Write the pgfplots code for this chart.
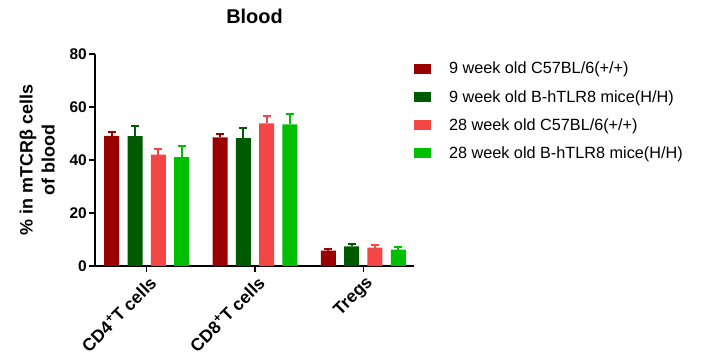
\documentclass[border=0pt]{standalone}
\usepackage{pgfplots}
\pgfplotsset{compat=1.18}
\usepackage{fontspec}
\setmainfont{Liberation Sans}
\definecolor{dred}{RGB}{153,0,0}
\definecolor{dgreen}{RGB}{0,90,0}
\definecolor{lred}{RGB}{245,70,70}
\definecolor{lgreen}{RGB}{0,190,0}
\begin{document}
\begin{tikzpicture}
\path[use as bounding box] (0,0) rectangle (726bp,360bp);
\begin{axis}[
  at={(95bp,94bp)}, anchor=south west,
  scale only axis, width=319bp, height=212bp,
  xmin=-0.477, xmax=2.468, ymin=0, ymax=80,
  axis lines=left, axis line style={line width=1.6bp, -},
  every tick/.style={line width=1.6bp, black},
  tick align=outside, major tick length=6bp,
  ytick={0,20,40,60,80},
  xtick={0,1,2},
  xticklabels={CD4\textsuperscript{+}T cells, CD8\textsuperscript{+}T cells, Tregs},
  x tick label style={rotate=45, anchor=north east, font=\fontsize{17.5}{19}\selectfont\bfseries, inner sep=1bp, yshift=-2bp},
  y tick label style={font=\fontsize{15.5}{17}\selectfont\bfseries, inner sep=2bp},
  /pgf/number format/assume math mode=true,
  ylabel={\% in mTCRβ cells\\of blood},
  ylabel style={font=\fontsize{18}{22}\selectfont\bfseries, align=center, at={(axis description cs:-0.115,0.5)}, anchor=south},
  title={Blood},
  title style={font=\fontsize{20}{22}\selectfont\bfseries, at={(axis description cs:0.5,1.15)}, anchor=center},
  ybar=8.3bp, bar width=15bp,
  error bars/y dir=plus, error bars/y explicit,
  legend style={draw=none, fill=none, at={(axis description cs:0.99,0.982)}, anchor=north west,
    font=\fontsize{16.3}{18}\selectfont, row sep=11bp, nodes={inner sep=2bp}},
  legend cell align=left,
  legend image code/.code={\fill[#1] (0bp,-5bp) rectangle (17bp,5bp); \path[draw=none,fill=none] (0bp,0bp) -- (33bp,0bp);},
]
\addplot[fill=dred, draw=none, error bars/error bar style={dred, line width=1.8bp}, error bars/error mark options={rotate=90, mark size=4bp, line width=1.8bp, dred}]
  coordinates {(0,49.1) +- (0,1.6) (1,48.5) +- (0,1.4) (2,5.8) +- (0,0.5)};
\addplot[fill=dgreen, draw=none, error bars/error bar style={dgreen, line width=1.8bp}, error bars/error mark options={rotate=90, mark size=4bp, line width=1.8bp, dgreen}]
  coordinates {(0,49.0) +- (0,3.9) (1,48.3) +- (0,3.9) (2,7.4) +- (0,0.8)};
\addplot[fill=lred, draw=none, error bars/error bar style={lred, line width=1.8bp}, error bars/error mark options={rotate=90, mark size=4bp, line width=1.8bp, lred}]
  coordinates {(0,42.0) +- (0,2.3) (1,53.8) +- (0,2.8) (2,6.9) +- (0,0.9)};
\addplot[fill=lgreen, draw=none, error bars/error bar style={lgreen, line width=1.8bp}, error bars/error mark options={rotate=90, mark size=4bp, line width=1.8bp, lgreen}]
  coordinates {(0,41.1) +- (0,4.2) (1,53.4) +- (0,4.1) (2,6.2) +- (0,0.9)};
\legend{9 week old C57BL/6(+/+), 9 week old B-hTLR8 mice(H/H), 28 week old C57BL/6(+/+), 28 week old B-hTLR8 mice(H/H)}
\end{axis}
\end{tikzpicture}
\end{document}
